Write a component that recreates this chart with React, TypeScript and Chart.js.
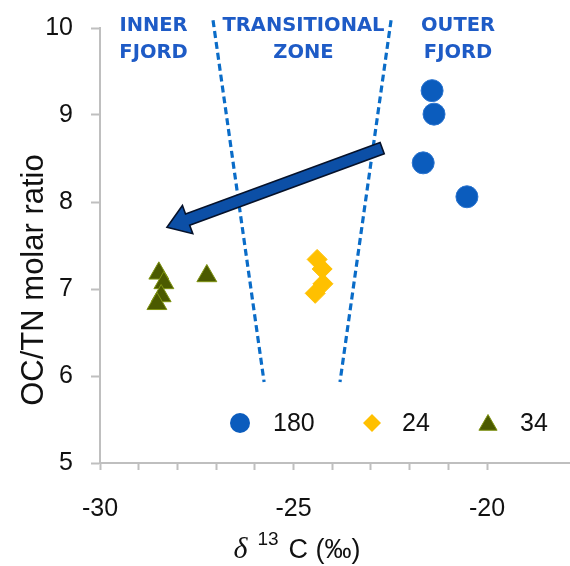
import React, { useEffect, useRef } from 'react';
import { Chart, registerables } from 'chart.js';

Chart.register(...registerables);

// ---- data ----
const xTickValues = [-30, -29, -28, -27, -26, -25, -24, -23, -22, -21, -20];
const yTickValues = [5, 6, 7, 8, 9, 10];

const seriesLabels = ['180', '24', '34'];
const site180X = [-21.42, -21.37, -21.65, -20.52];
const site180Y = [9.28, 9.01, 8.45, 8.06];
const site24X = [-24.39, -24.26, -24.24, -24.44];
const site24Y = [7.34, 7.23, 7.06, 6.95];
const site34X = [-28.48, -28.35, -28.42, -28.53, -27.24];
const site34Y = [7.18, 7.07, 6.92, 6.83, 7.15];

const zoneLines = [['INNER', 'FJORD'], ['TRANSITIONAL', 'ZONE'], ['OUTER', 'FJORD']];

const leftBoundaryX = [-27.08, -25.76];
const leftBoundaryY = [10.09, 5.93];
const rightBoundaryX = [-22.48, -23.8];
const rightBoundaryY = [10.09, 5.93];

const arrowX = [-22.71, -28.27];
const arrowY = [8.62, 7.71];

const xTitle = ['δ', '13', 'C (‰)'];
const yTitle = 'OC/TN molar ratio';

// ---- styles ----
const BLUE = '#0B5CBD';
const GOLD = '#FFC000';
const OLIVE = '#4B5A00';
const OLIVE_EDGE = '#7F9312';
const ZONE_BLUE = '#1E5BC6';
const DASH_BLUE = '#0A6CC8';
const AXIS_GRAY = '#BFBFBF';
const SANS = '"Liberation Sans", Arial, Helvetica, sans-serif';

function zip(xs: number[], ys: number[]) {
  return xs.map((x, i) => ({ x, y: ys[i] }));
}

function drawMarker(ctx: CanvasRenderingContext2D, kind: string, x: number, y: number, r: number) {
  ctx.beginPath();
  if (kind === 'circle') {
    ctx.arc(x, y, r, 0, Math.PI * 2);
    ctx.fillStyle = BLUE;
    ctx.fill();
  } else if (kind === 'diamond') {
    ctx.moveTo(x - r, y);
    ctx.lineTo(x, y - r);
    ctx.lineTo(x + r, y);
    ctx.lineTo(x, y + r);
    ctx.closePath();
    ctx.fillStyle = GOLD;
    ctx.fill();
  } else {
    const s = Math.sin(Math.PI / 3) * r;
    ctx.moveTo(x, y - r);
    ctx.lineTo(x + s, y + r / 2);
    ctx.lineTo(x - s, y + r / 2);
    ctx.closePath();
    ctx.fillStyle = OLIVE;
    ctx.fill();
    ctx.strokeStyle = OLIVE_EDGE;
    ctx.lineWidth = 1;
    ctx.stroke();
  }
}

const overlayPlugin = {
  id: 'overlay',
  beforeDatasetsDraw(chart: any) {
    const { ctx, scales, chartArea } = chart;
    const xs = scales.x;
    const ys = scales.y;
    ctx.save();
    // continue the x axis line to the right edge of the figure
    ctx.strokeStyle = AXIS_GRAY;
    ctx.lineWidth = 2;
    ctx.beginPath();
    ctx.moveTo(chartArea.right - 1, Math.round(xs.top));
    ctx.lineTo(chart.width, Math.round(xs.top));
    ctx.stroke();

    ctx.strokeStyle = DASH_BLUE;
    ctx.lineWidth = 3.2;
    ctx.setLineDash([7, 4]);
    [[leftBoundaryX, leftBoundaryY], [rightBoundaryX, rightBoundaryY]].forEach(([bx, by]) => {
      ctx.beginPath();
      ctx.moveTo(xs.getPixelForValue(bx[0]), ys.getPixelForValue(by[0]));
      ctx.lineTo(xs.getPixelForValue(bx[1]), ys.getPixelForValue(by[1]));
      ctx.stroke();
    });
    ctx.restore();
  },
  afterDatasetsDraw(chart: any) {
    const { ctx, scales, chartArea } = chart;
    const xs = scales.x;
    const ys = scales.y;
    ctx.save();

    // arrow
    const x0 = xs.getPixelForValue(arrowX[0]);
    const y0 = ys.getPixelForValue(arrowY[0]);
    const x1 = xs.getPixelForValue(arrowX[1]);
    const y1 = ys.getPixelForValue(arrowY[1]);
    const dx = x1 - x0;
    const dy = y1 - y0;
    const len = Math.hypot(dx, dy);
    const ux = dx / len;
    const uy = dy / len;
    const px = -uy;
    const py = ux;
    const shaftHalf = 6;
    const headLen = 22;
    const headHalf = 15;
    const bx = x1 - ux * headLen;
    const by = y1 - uy * headLen;
    ctx.beginPath();
    ctx.moveTo(x0 + px * shaftHalf, y0 + py * shaftHalf);
    ctx.lineTo(bx + px * shaftHalf, by + py * shaftHalf);
    ctx.lineTo(bx + px * headHalf, by + py * headHalf);
    ctx.lineTo(x1, y1);
    ctx.lineTo(bx - px * headHalf, by - py * headHalf);
    ctx.lineTo(bx - px * shaftHalf, by - py * shaftHalf);
    ctx.lineTo(x0 - px * shaftHalf, y0 - py * shaftHalf);
    ctx.closePath();
    ctx.fillStyle = '#0C4FA6';
    ctx.fill();
    ctx.strokeStyle = '#06122A';
    ctx.lineWidth = 1.6;
    ctx.lineJoin = 'miter';
    ctx.stroke();

    // zone labels
    ctx.fillStyle = ZONE_BLUE;
    ctx.font = 'bold 19.5px "DejaVu Sans", Verdana, sans-serif';
    ctx.textBaseline = 'middle';
    ctx.textAlign = 'center';
    const zoneCx = [153.5, 303.5, 458];
    const lineY = [25.5, 53];
    zoneLines.forEach((lines, i) => {
      lines.forEach((t, j) => {
        ctx.fillText(t, zoneCx[i], lineY[j]);
      });
    });

    // legend
    const ly = chartArea.bottom - 40;
    const kinds = ['circle', 'diamond', 'triangle'];
    const markerX = [240, 372, 488];
    const markerR = [10, 9, 10.5];
    const textX = [273, 402, 520];
    ctx.font = '25px ' + SANS;
    ctx.textAlign = 'left';
    ctx.textBaseline = 'middle';
    seriesLabels.forEach((lab, i) => {
      const yy = kinds[i] === 'triangle' ? ly + 2 : ly;
      drawMarker(ctx, kinds[i], markerX[i], yy, markerR[i]);
      ctx.fillStyle = '#111';
      ctx.fillText(lab, textX[i], ly + 1);
    });

    // x title
    ctx.fillStyle = '#111';
    ctx.textBaseline = 'alphabetic';
    ctx.textAlign = 'left';
    const fonts = ['italic 30px "Liberation Serif", "Times New Roman", serif', '19px ' + SANS, '27px ' + SANS];
    const widths = xTitle.map((t, i) => {
      ctx.font = fonts[i];
      return ctx.measureText(t).width;
    });
    const gaps = [10, 10];
    const total = widths[0] + widths[1] + widths[2] + gaps[0] + gaps[1];
    let cx = 297 - total / 2;
    const base = 558;
    const dyOff = [0, -13, 0];
    xTitle.forEach((t, i) => {
      ctx.font = fonts[i];
      ctx.fillText(t, cx, base + dyOff[i]);
      cx += widths[i] + (gaps[i] || 0);
    });

    // y title
    ctx.save();
    ctx.translate(34, 280);
    ctx.rotate(-Math.PI / 2);
    ctx.font = '31px ' + SANS;
    ctx.textAlign = 'center';
    ctx.textBaseline = 'middle';
    ctx.fillText(yTitle, 0, 0);
    ctx.restore();

    ctx.restore();
  },
};

export default function App() {
  const ref = useRef<HTMLCanvasElement | null>(null);
  useEffect(() => {
    if (!ref.current) return;
    const chart = new Chart(ref.current, {
      type: 'scatter',
      data: {
        datasets: [
          {
            label: seriesLabels[0],
            data: zip(site180X, site180Y),
            pointStyle: 'circle',
            pointRadius: 11,
            backgroundColor: BLUE,
            borderColor: '#2A74D0',
            borderWidth: 1,
          },
          {
            label: seriesLabels[1],
            data: zip(site24X, site24Y),
            pointStyle: 'rectRot',
            pointRadius: 10,
            backgroundColor: GOLD,
            borderColor: GOLD,
            borderWidth: 1,
          },
          {
            label: seriesLabels[2],
            data: zip(site34X, site34Y),
            pointStyle: 'triangle',
            pointRadius: 11.5,
            backgroundColor: OLIVE,
            borderColor: OLIVE_EDGE,
            borderWidth: 1,
          },
        ],
      },
      options: {
        responsive: false,
        animation: false,
        layout: { padding: { top: 28, left: 0, right: 0, bottom: 0 } },
        plugins: { legend: { display: false }, tooltip: { enabled: false } },
        scales: {
          x: {
            type: 'linear',
            min: -30,
            max: -18.18,
            afterBuildTicks: (scale: any) => {
              scale.ticks = xTickValues.map((v) => ({ value: v }));
            },
            afterFit: (scale: any) => {
              scale.height = 103;
              scale.paddingLeft = 0;
              scale.paddingRight = 0;
            },
            ticks: {
              autoSkip: false,
              padding: 24,
              color: '#111',
              font: { family: SANS, size: 25 },
              callback: (v: any) => (Number(v) % 5 === 0 ? String(v) : ''),
            },
            grid: {
              drawOnChartArea: false,
              drawTicks: true,
              tickLength: 7,
              tickColor: AXIS_GRAY,
              tickWidth: 2,
            },
            border: { display: true, color: AXIS_GRAY, width: 2 },
          },
          y: {
            type: 'linear',
            min: 5,
            max: 10,
            afterBuildTicks: (scale: any) => {
              scale.ticks = yTickValues.map((v) => ({ value: v }));
            },
            afterFit: (scale: any) => {
              scale.width = 100;
              scale.paddingTop = 0;
              scale.paddingBottom = 0;
            },
            ticks: {
              padding: 18,
              color: '#111',
              font: { family: SANS, size: 25 },
            },
            grid: {
              drawOnChartArea: false,
              drawTicks: true,
              tickLength: 9,
              tickColor: AXIS_GRAY,
              tickWidth: 2,
            },
            border: { display: true, color: AXIS_GRAY, width: 2 },
          },
        },
      },
      plugins: [overlayPlugin],
    });
    return () => chart.destroy();
  }, []);
  return (
    <div style={{ position: 'absolute', left: 0, top: 0, width: 570, height: 566, background: '#fff' }}>
      <canvas ref={ref} width={570} height={566} style={{ display: 'block' }} />
    </div>
  );
}
